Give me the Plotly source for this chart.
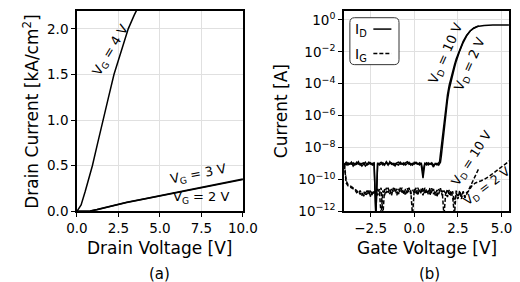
import plotly.graph_objects as go

W, H = 520, 282
FONT = "DejaVu Sans"

# ---------------- Panel (a): output characteristics ----------------
vd_a = [0.0, 0.25, 0.5, 0.93, 1.25, 1.56, 1.9, 2.23, 2.65, 3.09, 3.45, 3.8]
id_vg4 = [0.0, 0.07, 0.22, 0.5, 0.75, 1.0, 1.25, 1.5, 1.75, 2.0, 2.15, 2.28]

vd_b = [0.0, 0.5, 0.8, 1.2, 2.0, 2.5, 3.0, 4.0, 5.0, 6.0, 7.0, 7.5, 8.0, 9.0, 10.0]
id_vg3 = [0.0, 0.0, 0.004, 0.02, 0.055, 0.08, 0.1, 0.135, 0.172, 0.208, 0.243, 0.262, 0.28, 0.318, 0.356]
id_vg2 = [0.0, 0.0, 0.003, 0.018, 0.052, 0.077, 0.097, 0.132, 0.168, 0.203, 0.238, 0.256, 0.274, 0.311, 0.348]

# ---------------- Panel (b): transfer characteristics ----------------
vg_off = [-4.0, -3.9, -3.8, -3.7, -3.6, -3.5, -3.4, -3.3, -3.2, -3.1,
          -3.0, -2.9, -2.8, -2.7, -2.6, -2.5, -2.4, -2.3, -2.2, -2.1,
          -2.0, -1.9, -1.8, -1.7, -1.6, -1.5, -1.4, -1.3, -1.2, -1.1,
          -1.0, -0.9, -0.8, -0.7, -0.6, -0.5, -0.4, -0.3, -0.2, -0.1,
          0.0, 0.1, 0.2, 0.3, 0.4, 0.5, 0.6, 0.7, 0.8, 0.9,
          1.0, 1.1, 1.2, 1.3, 1.4]
id_vd10_off = [1.0e-9, 0.8e-9, 1.1e-9, 0.9e-9, 1.2e-9, 0.7e-9, 1.0e-9, 0.9e-9, 1.3e-9, 0.8e-9,
               1.0e-9, 1.1e-9, 0.7e-9, 1.0e-9, 1.2e-9, 0.9e-9, 1.0e-9, 1.1e-9, 5e-13, 0.9e-9,
               1.0e-9, 1.2e-9, 0.8e-9, 1.0e-9, 1.1e-9, 0.8e-9, 1.3e-9, 0.9e-9, 1.0e-9, 0.7e-9,
               1.1e-9, 1.2e-9, 0.9e-9, 1.0e-9, 0.8e-9, 1.1e-9, 1.3e-9, 0.9e-9, 1.0e-9, 0.8e-9,
               1.2e-9, 1.0e-9, 0.9e-9, 1.1e-9, 0.8e-9, 1.2e-10, 0.9e-9, 1.1e-9, 0.8e-9, 1.0e-9,
               0.9e-9, 0.6e-9, 1.0e-9, 0.8e-9, 1.1e-9]
id_vd2_off = [0.9e-9, 1.2e-9, 0.8e-9, 1.0e-9, 0.9e-9, 1.1e-9, 0.8e-9, 1.2e-9, 0.9e-9, 1.0e-9,
              0.7e-9, 1.0e-9, 1.2e-9, 0.8e-9, 1.0e-9, 1.1e-9, 0.8e-9, 0.9e-9, 5e-13, 1.1e-9,
              0.8e-9, 1.0e-9, 1.1e-9, 0.8e-9, 1.3e-9, 0.9e-9, 1.0e-9, 1.1e-9, 0.8e-9, 1.0e-9,
              0.9e-9, 0.8e-9, 1.2e-9, 0.9e-9, 1.1e-9, 0.8e-9, 1.0e-9, 1.2e-9, 0.8e-9, 1.0e-9,
              0.9e-9, 1.2e-9, 1.0e-9, 0.8e-9, 1.1e-9, 3e-10, 1.0e-9, 0.8e-9, 1.1e-9, 0.9e-9,
              1.1e-9, 0.8e-9, 0.9e-9, 1.0e-9, 0.8e-9]

vg_on_vd10 = [1.4, 1.45, 1.5, 1.55, 1.6, 1.7, 1.8, 1.9, 2.0, 2.1, 2.2, 2.3, 2.4, 2.5, 2.6,
              2.8, 3.0, 3.2, 3.4, 3.6, 3.7]
id_on_vd10 = [1.1e-9, 1.3e-9, 4e-9, 1.2e-8, 4e-8, 6e-7, 4e-6, 2e-5, 8e-5, 2.5e-4, 6e-4, 1.5e-3, 3.5e-3, 7e-3, 1.4e-2,
              4.5e-2, 0.11, 0.2, 0.3, 0.38, 0.42]
vg_on_vd2 = [1.4, 1.5, 1.55, 1.6, 1.65, 1.7, 1.8, 1.9, 2.0, 2.1, 2.2, 2.3, 2.4, 2.5, 2.6,
             2.8, 3.0, 3.2, 3.4, 3.6, 3.8, 4.0, 4.5, 5.0, 5.5]
id_on_vd2 = [0.8e-9, 1.2e-9, 3e-9, 1.0e-8, 4e-8, 1.5e-7, 1.5e-6, 9e-6, 4.5e-5, 1.5e-4, 4e-4, 1e-3, 2.5e-3, 5.5e-3, 1.1e-2,
             3.8e-2, 0.1, 0.2, 0.3, 0.38, 0.43, 0.45, 0.47, 0.475, 0.475]

vg_ig = [-4.0, -3.9, -3.8, -3.7, -3.6, -3.5, -3.4, -3.3, -3.2, -3.1,
         -3.0, -2.9, -2.8, -2.7, -2.6, -2.5, -2.4, -2.3, -2.2, -2.1,
         -2.0, -1.9, -1.8, -1.7, -1.6, -1.5, -1.4, -1.3, -1.2, -1.1,
         -1.0, -0.9, -0.8, -0.7, -0.6, -0.5, -0.4, -0.3, -0.2, -0.1,
         0.0, 0.1, 0.2, 0.3, 0.4, 0.5, 0.6, 0.7, 0.8, 0.9,
         1.0, 1.1, 1.2, 1.3, 1.4, 1.5, 1.6, 1.7, 1.8, 1.9,
         2.0, 2.1, 2.2, 2.3, 2.4, 2.5, 2.6, 2.7, 2.8, 2.9, 3.0]
ig_vd10_off = [8e-10, 6e-11, 4e-11, 3.5e-11, 3e-11, 2.5e-11, 2.2e-11, 1.5e-11, 1.8e-11, 1.2e-11,
               1.5e-11, 9e-12, 1.6e-11, 1e-11, 2e-11, 8e-12, 1.5e-11, 1.2e-11, 2e-11, 1e-11,
               2.5e-11, 5e-13, 2e-11, 1e-11, 3e-11, 1.5e-11, 2.5e-11, 1e-11, 3e-11, 1.8e-11,
               2.5e-11, 1.2e-11, 3e-11, 1.5e-11, 2.2e-11, 1e-11, 2.8e-11, 1.5e-11, 2e-11, 5e-13,
               2.5e-11, 1.2e-11, 3e-11, 1.8e-11, 2.5e-11, 1e-11, 3e-11, 1.5e-11, 2.2e-11, 1e-11,
               2.8e-11, 1.2e-11, 2e-11, 8e-12, 2.5e-11, 1.5e-11, 2e-11, 5e-13, 1.5e-11, 8e-12,
               2.2e-11, 1e-11, 1.8e-11, 3e-12, 1.5e-11, 6e-12, 2e-11, 9e-12, 1.6e-11, 7e-12, 1.2e-11]
ig_vd2_off = [1e-9, 8e-11, 5e-11, 4e-11, 3.5e-11, 3e-11, 2.5e-11, 2e-11, 1.4e-11, 2e-11,
              1e-11, 1.8e-11, 1.1e-11, 2e-11, 1.2e-11, 2.2e-11, 1e-11, 1.8e-11, 1e-11, 2.5e-11,
              1.2e-11, 3e-11, 5e-13, 2.5e-11, 1.4e-11, 3e-11, 1.2e-11, 2.5e-11, 1.5e-11, 3e-11,
              1e-11, 2.5e-11, 1.5e-11, 3e-11, 1.2e-11, 2.5e-11, 1.4e-11, 3e-11, 1.2e-11, 2.2e-11,
              1.5e-11, 3e-11, 1e-11, 2.5e-11, 1.3e-11, 3e-11, 1.2e-11, 2.5e-11, 1.2e-11, 3e-11,
              1.4e-11, 2.5e-11, 1e-11, 2.2e-11, 1.2e-11, 2.8e-11, 1e-11, 2e-11, 1.2e-11, 2.5e-11,
              1e-11, 2e-11, 8e-12, 5e-13, 2e-11, 9e-12, 1.5e-11, 6e-12, 1.8e-11, 8e-12, 1.5e-11]
vg_ig_tail_vd10 = [3.0, 3.1, 3.2, 3.3, 3.4, 3.5, 3.6, 3.7]
ig_tail_vd10 = [1.2e-11, 2.5e-11, 4e-11, 7e-11, 1.1e-10, 1.8e-10, 3.2e-10, 5e-10]
vg_ig_tail_vd2 = [3.0, 3.1, 3.3, 3.5, 3.8, 4.0, 4.3, 4.6, 5.0, 5.2, 5.5]
ig_tail_vd2 = [1.5e-11, 1.8e-11, 4e-11, 6e-11, 8e-11, 1e-10, 1.6e-10, 2.8e-10, 6e-10, 9e-10, 1.6e-9]

y_tick_exps = [0, -2, -4, -6, -8, -10, -12]

# ---------------- layout helpers ----------------
def px(x):
    return x / W

def py(y):
    return 1 - y / H

X1 = [61 / W, 235.7 / W]
X2 = [342 / W, 515.7 / W]
YD = [(H - 209.3) / H, (H - 2.7) / H]

LW = 1.5
DASH = "4px,2px"

fig = go.Figure()

def line(x, y, xa, ya, dash="solid"):
    fig.add_trace(go.Scatter(x=x, y=y, mode="lines", xaxis=xa, yaxis=ya,
                             line=dict(color="black", width=LW, dash=dash),
                             showlegend=False, hoverinfo="skip"))

line(vd_a, id_vg4, "x", "y")
line(vd_b, id_vg3, "x", "y")
line(vd_b, id_vg2, "x", "y")

line(vg_off + vg_on_vd10[1:], id_vd10_off + id_on_vd10[1:], "x2", "y2")
line(vg_off + vg_on_vd2[1:], id_vd2_off + id_on_vd2[1:], "x2", "y2")
line(vg_ig + vg_ig_tail_vd10[1:], ig_vd10_off + ig_tail_vd10[1:], "x2", "y2", DASH)
line(vg_ig + vg_ig_tail_vd2[1:], ig_vd2_off + ig_tail_vd2[1:], "x2", "y2", DASH)

tickfont = dict(family=FONT, size=13.5, color="black")
common = dict(showline=True, linecolor="black", linewidth=1.5, mirror=True,
              ticks="outside", ticklen=4, tickwidth=1.2, tickcolor="black",
              showgrid=True, gridcolor="#e0e0e0", gridwidth=1, zeroline=False,
              tickfont=tickfont)

fig.update_layout(
    width=W, height=H,
    margin=dict(l=0, r=0, t=0, b=0),
    paper_bgcolor="white", plot_bgcolor="white",
    xaxis=dict(domain=X1, range=[0, 10], tickvals=[0, 2.5, 5, 7.5, 10],
               ticktext=["0.0", "2.5", "5.0", "7.5", "10.0"], anchor="y", **common),
    yaxis=dict(domain=YD, range=[0, 2.2], tickvals=[0, 0.5, 1.0, 1.5, 2.0],
               ticktext=["0.0", "0.5", "1.0", "1.5", "2.0"], anchor="x", **common),
    xaxis2=dict(domain=X2, range=[-4.03, 5.42], tickvals=[-2.5, 0, 2.5, 5.0],
                ticktext=["\u22122.5", "0.0", "2.5", "5.0"], anchor="y2", **common),
    yaxis2=dict(domain=YD, type="log", range=[-12, 0.58],
                tickvals=[10.0 ** e for e in y_tick_exps],
                ticktext=["10<sup>%s</sup>" % (str(e).replace("-", "\u2212")) for e in y_tick_exps],
                anchor="x2", **common),
)

def ann(text, x, y, size=13, angle=0):
    fig.add_annotation(text=text, x=px(x), y=py(y), xref="paper", yref="paper",
                       showarrow=False, textangle=angle, xanchor="center", yanchor="middle",
                       font=dict(family=FONT, size=size, color="black"))

TITLE = 17
ann("Drain Current [kA/cm<sup>2</sup>]", 12.5, 106, TITLE, -90)
ann("Drain Voltage [V]", 148, 247, TITLE)
ann("(a)", 148, 274, 15)
ann("Current [A]", 276, 106, TITLE, -90)
ann("Gate Voltage [V]", 429, 247, TITLE)
ann("(b)", 432, 274, 15)

ann("V<sub>G</sub> = 4 V", 97, 44, 13, -59)
ann("V<sub>G</sub> = 3 V", 189, 171, 13, -11)
ann("V<sub>G</sub> = 2 V", 192, 195, 13, 0)

ann("V<sub>D</sub> = 10 V", 450, 47, 13, -66)
ann("V<sub>D</sub> = 2 V", 475, 58, 13, -66)
ann("V<sub>D</sub> = 10 V", 477, 155, 12.5, -57)
ann("V<sub>D</sub> = 2 V", 493, 184, 12.5, -37)

# legend box (panel b), drawn in axis-domain coordinates
def dx(x):
    return (x - 342) / (515.7 - 342)

def dy(y):
    return (209.3 - y) / (209.3 - 2.7)

bx0, bx1, by0, by1 = 348.3, 400, 10, 58.3
r = 5
path = ("M %f,%f L %f,%f Q %f,%f %f,%f L %f,%f Q %f,%f %f,%f L %f,%f Q %f,%f %f,%f L %f,%f Q %f,%f %f,%f Z" % (
    dx(bx0 + r), dy(by0), dx(bx1 - r), dy(by0),
    dx(bx1), dy(by0), dx(bx1), dy(by0 + r),
    dx(bx1), dy(by1 - r),
    dx(bx1), dy(by1), dx(bx1 - r), dy(by1),
    dx(bx0 + r), dy(by1),
    dx(bx0), dy(by1), dx(bx0), dy(by1 - r),
    dx(bx0), dy(by0 + r),
    dx(bx0), dy(by0), dx(bx0 + r), dy(by0)))
fig.add_shape(type="path", path=path, xref="x2 domain", yref="y2 domain",
              line=dict(color="#333333", width=1), fillcolor="white", layer="above")
fig.add_shape(type="line", x0=dx(373), x1=dx(392), y0=dy(21.7), y1=dy(21.7),
              xref="x2 domain", yref="y2 domain", line=dict(color="black", width=LW))
fig.add_shape(type="line", x0=dx(373), x1=dx(392), y0=dy(46.7), y1=dy(46.7),
              xref="x2 domain", yref="y2 domain", line=dict(color="black", width=LW, dash=DASH))
fig.add_annotation(text="I<sub>D</sub>", x=px(352), y=py(23), xref="paper", yref="paper",
                   showarrow=False, xanchor="left", yanchor="middle",
                   font=dict(family=FONT, size=14, color="black"))
fig.add_annotation(text="I<sub>G</sub>", x=px(352), y=py(48), xref="paper", yref="paper",
                   showarrow=False, xanchor="left", yanchor="middle",
                   font=dict(family=FONT, size=14, color="black"))

fig.write_html("out.html")
